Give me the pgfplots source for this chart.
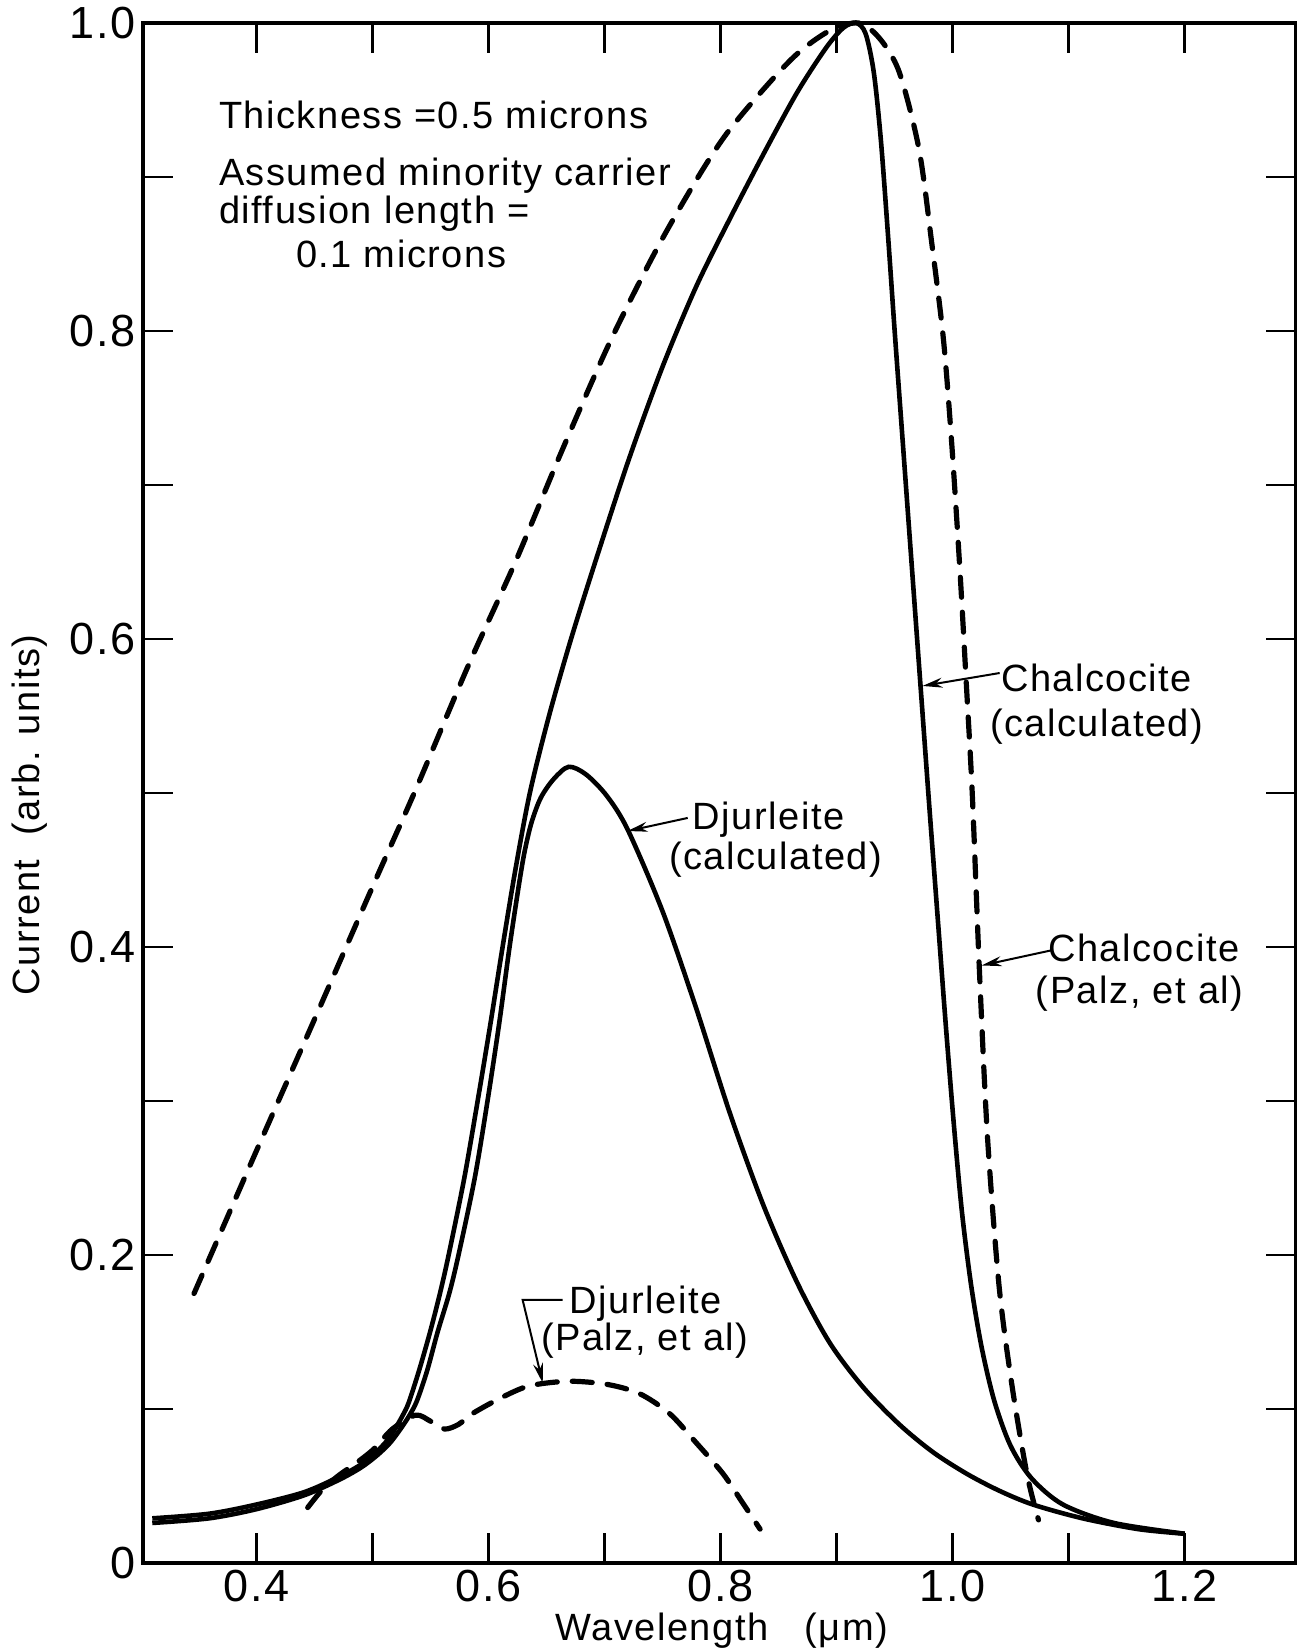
\documentclass[border=0pt]{standalone}
\usepackage{fontspec}
\setmainfont{Liberation Sans}[LetterSpace=4]
\usepackage{pgfplots}
\pgfplotsset{compat=1.18}
\usetikzlibrary{arrows.meta}
\newcommand\annot{\fontsize{19bp}{23bp}\selectfont}
\newcommand\tickfont{\fontsize{22.5bp}{26bp}\selectfont}

\begin{document}
\begin{tikzpicture}
\path[use as bounding box] (-71.5bp,-44.5bp) rectangle (577bp,781.5bp);
\begin{axis}[at={(0,0)}, anchor=south west, scale only axis,
  width=576.5bp, height=770bp,
  xmin=0.302, xmax=1.296, ymin=0, ymax=1,
  xtick={0.4,0.5,0.6,0.7,0.8,0.9,1.0,1.1,1.2},
  xticklabels={0.4,,0.6,,0.8,,1.0,,1.2},
  ytick={0,0.1,0.2,0.3,0.4,0.5,0.6,0.7,0.8,0.9,1.0},
  yticklabels={0,,0.2,,0.4,,0.6,,0.8,,1.0},
  tick label style={font=\tickfont},
  /pgf/number format/assume math mode=true,
  major tick length=15bp,
  tick style={line width=1.4bp, black},
  axis line style={line width=1.8bp},
  clip=false,
]
% Chalcocite (calculated)
\addplot[black, line width=2.3bp, smooth, tension=0.5] coordinates {
(0.310,0.029) (0.359,0.032) (0.400,0.038) (0.441,0.046) (0.471,0.056)
(0.490,0.064) (0.503,0.072) (0.513,0.080) (0.520,0.088) (0.526,0.096)
(0.531,0.104) (0.540,0.125) (0.5495,0.150) (0.558,0.175) (0.5655,0.200)
(0.579,0.250) (0.5905,0.300) (0.6015,0.350) (0.612,0.400) (0.623,0.450)
(0.6355,0.500) (0.652,0.550) (0.671,0.600) (0.694,0.655) (0.721,0.717)
(0.750,0.777) (0.779,0.829) (0.808,0.873) (0.837,0.915) (0.866,0.955)
(0.891,0.984) (0.906,0.997) (0.917,1.000) (0.925,0.993) (0.932,0.968)
(0.938,0.925) (0.944,0.865) (0.950,0.800) (0.956,0.738) (0.962,0.676)
(0.968,0.614) (0.974,0.552) (0.980,0.490) (0.987,0.420) (0.994,0.350)
(1.001,0.285) (1.008,0.228) (1.016,0.180) (1.025,0.140) (1.036,0.105)
(1.050,0.076) (1.068,0.055) (1.095,0.038) (1.139,0.026) (1.200,0.019)};
% Djurleite (calculated)
\addplot[black, line width=2.3bp, smooth, tension=0.5] coordinates {
(0.310,0.026) (0.359,0.029) (0.400,0.035) (0.441,0.044) (0.471,0.054)
(0.490,0.062) (0.504,0.070) (0.515,0.078) (0.524,0.087) (0.531,0.095)
(0.538,0.105) (0.547,0.125) (0.556,0.150) (0.566,0.175) (0.574,0.200)
(0.588,0.250) (0.599,0.300) (0.609,0.350) (0.618,0.400) (0.626,0.440)
(0.631,0.462) (0.637,0.481) (0.645,0.497) (0.656,0.509) (0.669,0.517)
(0.684,0.512) (0.702,0.498) (0.720,0.476) (0.750,0.423) (0.779,0.360)
(0.808,0.292) (0.837,0.232) (0.866,0.182) (0.894,0.143) (0.923,0.114)
(0.954,0.090) (0.983,0.072) (1.012,0.058) (1.040,0.047) (1.069,0.038)
(1.112,0.029) (1.160,0.022) (1.200,0.019)};
% Chalcocite (Palz, et al)
\addplot[black, line width=2.6bp, line cap=round, dash pattern=on 10bp off 7.5bp, smooth, tension=0.5] coordinates {
(0.346,0.175) (0.400,0.268) (0.451,0.355) (0.501,0.441) (0.537,0.502)
(0.582,0.582) (0.623,0.650) (0.663,0.722) (0.704,0.792) (0.744,0.852)
(0.779,0.898) (0.805,0.928) (0.837,0.957) (0.866,0.980) (0.894,0.995)
(0.919,1.000) (0.937,0.990) (0.954,0.968) (0.971,0.918) (0.982,0.857)
(0.992,0.795) (0.999,0.729) (1.006,0.648) (1.012,0.568) (1.017,0.498)
(1.023,0.386) (1.030,0.277) (1.040,0.180) (1.051,0.116) (1.064,0.058)
(1.074,0.028)};
% Djurleite (Palz, et al)
\addplot[black, line width=2.6bp, line cap=round, dash pattern=on 10bp off 7.5bp, smooth, tension=0.5] coordinates {
(0.444,0.036) (0.457,0.048) (0.471,0.057) (0.486,0.065) (0.501,0.074)
(0.517,0.087) (0.537,0.096) (0.550,0.092) (0.562,0.087) (0.574,0.090)
(0.586,0.097) (0.610,0.107) (0.635,0.115) (0.669,0.118) (0.702,0.116)
(0.730,0.110) (0.756,0.097) (0.779,0.078) (0.802,0.058) (0.819,0.039)
(0.834,0.022)};

% annotations
\node[anchor=base west, font=\annot, inner sep=0] at (axis cs:0.3672,0.9318) {Thickness =0.5 microns};
\node[anchor=base west, font=\annot, inner sep=0] at (axis cs:0.3672,0.8942) {Assumed minority carrier};
\node[anchor=base west, font=\annot, inner sep=0] at (axis cs:0.3672,0.8701) {diffusion length =};
\node[anchor=base west, font=\annot, inner sep=0] at (axis cs:0.4336,0.8409) {0.1 microns};

\node[anchor=base, font=\annot, inner sep=0] at (axis cs:1.1241,0.5662) {Chalcocite};
\node[anchor=base, font=\annot, inner sep=0] at (axis cs:1.1241,0.5370) {(calculated)};
\draw[line width=1bp, -{Stealth[length=10bp,width=5bp]}] (axis cs:1.0405,0.5779) -- (axis cs:0.9740,0.5695);

\node[anchor=base, font=\annot, inner sep=0] at (axis cs:1.1647,0.3903) {Chalcocite};
\node[anchor=base, font=\annot, inner sep=0] at (axis cs:1.1612,0.3636) {(Palz, et al)};
\draw[line width=1bp, -{Stealth[length=10bp,width=5bp]}] (axis cs:1.0862,0.3980) -- (axis cs:1.0250,0.3880);

\node[anchor=base, font=\annot, inner sep=0] at (axis cs:0.8414,0.4760) {Djurleite};
\node[anchor=base, font=\annot, inner sep=0] at (axis cs:0.8474,0.4500) {(calculated)};
\draw[line width=1bp, -{Stealth[length=10bp,width=5bp]}] (axis cs:0.7716,0.4838) -- (axis cs:0.7198,0.4753);

\node[anchor=base, font=\annot, inner sep=0] at (axis cs:0.7353,0.1623) {Djurleite};
\node[anchor=base, font=\annot, inner sep=0] at (axis cs:0.7345,0.1383) {(Palz, et al)};
\draw[line width=1bp, -{Stealth[length=10bp,width=5bp]}] (axis cs:0.6638,0.1708) -- (axis cs:0.6293,0.1708) -- (axis cs:0.6466,0.1169);

\node[rotate=90, anchor=center, font=\annot, inner sep=0] at (axis cs:0.2043,0.4857) {Current\ \ (arb. units)};
\node[anchor=base, font=\annot, inner sep=0] at (axis cs:0.8009,-0.0505) {Wavelength\ \ \ (μm)};
\end{axis}
\end{tikzpicture}
\end{document}
